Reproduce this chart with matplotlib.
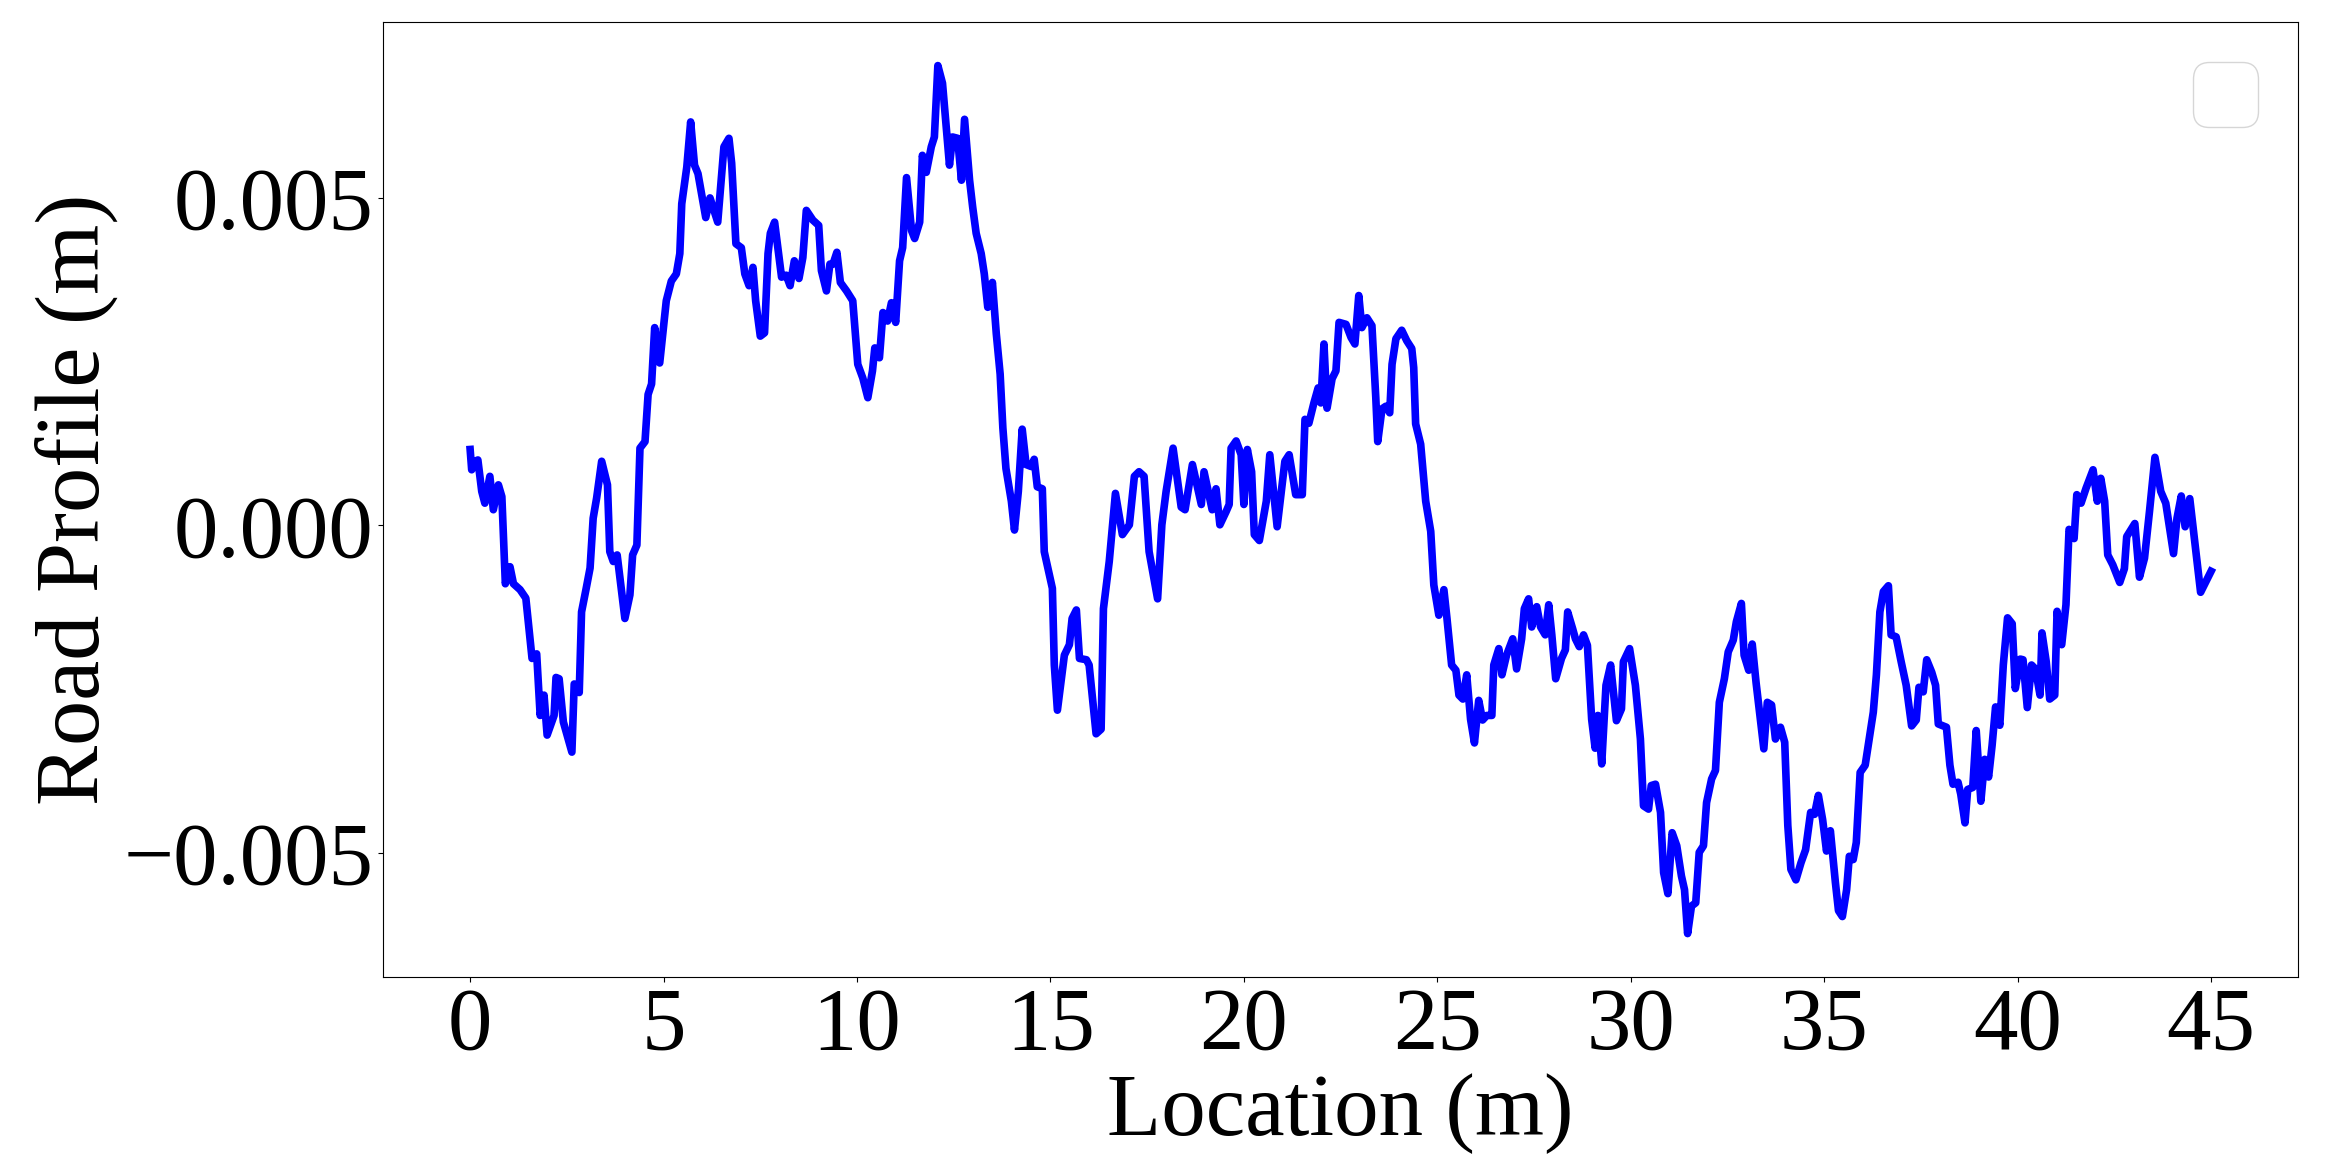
import matplotlib
matplotlib.use("Agg")
import matplotlib.pyplot as plt
import numpy as np

# Location (m)
location = [
    0.00, 0.04, 0.13, 0.20, 0.30, 0.38, 0.51, 0.60, 0.73, 0.82, 0.91, 1.03, 1.12, 1.29, 1.44,
    1.60, 1.72, 1.81, 1.91, 1.99, 2.17, 2.22, 2.30, 2.41, 2.63, 2.69, 2.82, 2.88, 3.00, 3.10,
    3.18, 3.27, 3.40, 3.55, 3.61, 3.70, 3.80, 4.00, 4.13, 4.20, 4.31, 4.39, 4.52, 4.60, 4.69,
    4.77, 4.90, 5.07, 5.20, 5.33, 5.42, 5.47, 5.60, 5.70, 5.80, 5.89, 6.09, 6.20, 6.40, 6.56,
    6.69, 6.76, 6.87, 7.01, 7.10, 7.21, 7.31, 7.38, 7.50, 7.61, 7.70, 7.76, 7.87, 8.05, 8.17,
    8.27, 8.38, 8.50, 8.60, 8.69, 8.86, 9.01, 9.08, 9.21, 9.30, 9.38, 9.48, 9.57, 9.73, 9.89,
    10.02, 10.15, 10.28, 10.40, 10.46, 10.58, 10.67, 10.79, 10.89, 11.00, 11.10, 11.18, 11.28,
    11.41, 11.49, 11.62, 11.69, 11.79, 11.92, 12.00, 12.09, 12.21, 12.39, 12.47, 12.60, 12.70,
    12.78, 12.91, 12.99, 13.08, 13.21, 13.29, 13.38, 13.50, 13.60, 13.70, 13.77, 13.85, 13.99,
    14.07, 14.17, 14.27, 14.37, 14.50, 14.58, 14.66, 14.79, 14.84, 15.05, 15.10, 15.18, 15.36,
    15.49, 15.56, 15.67, 15.75, 15.93, 16.00, 16.18, 16.31, 16.37, 16.52, 16.68, 16.86, 17.04,
    17.17, 17.29, 17.42, 17.55, 17.77, 17.88, 17.99, 18.17, 18.38, 18.48, 18.67, 18.90, 18.97,
    19.18, 19.28, 19.38, 19.54, 19.62, 19.67, 19.80, 19.93, 20.00, 20.09, 20.20, 20.27, 20.40,
    20.58, 20.67, 20.86, 21.06, 21.17, 21.34, 21.51, 21.58, 21.68, 21.81, 21.92, 21.99, 22.07,
    22.15, 22.28, 22.38, 22.46, 22.64, 22.77, 22.87, 22.97, 23.05, 23.18, 23.31, 23.41, 23.46,
    23.57, 23.67, 23.77, 23.83, 23.93, 24.08, 24.21, 24.34, 24.39, 24.44, 24.57, 24.70, 24.83,
    24.91, 25.04, 25.17, 25.25, 25.37, 25.48, 25.56, 25.66, 25.76, 25.86, 25.96, 26.07, 26.17,
    26.28, 26.41, 26.46, 26.59, 26.67, 26.79, 26.95, 27.05, 27.18, 27.25, 27.36, 27.44, 27.57,
    27.67, 27.79, 27.88, 27.96, 28.06, 28.21, 28.31, 28.37, 28.50, 28.57, 28.67, 28.78, 28.88,
    28.99, 29.08, 29.15, 29.25, 29.36, 29.48, 29.63, 29.76, 29.81, 29.97, 30.12, 30.25, 30.33,
    30.46, 30.53, 30.64, 30.77, 30.85, 30.96, 31.07, 31.19, 31.31, 31.39, 31.47, 31.57, 31.68,
    31.77, 31.88, 31.96, 32.09, 32.19, 32.29, 32.42, 32.52, 32.65, 32.73, 32.86, 32.93, 33.05,
    33.14, 33.24, 33.34, 33.44, 33.53, 33.64, 33.74, 33.87, 33.98, 34.06, 34.14, 34.27, 34.40,
    34.52, 34.65, 34.75, 34.85, 34.96, 35.06, 35.16, 35.29, 35.37, 35.47, 35.58, 35.65, 35.75,
    35.83, 35.93, 36.06, 36.19, 36.27, 36.35, 36.44, 36.53, 36.66, 36.73, 36.86, 36.99, 37.12,
    37.26, 37.38, 37.45, 37.56, 37.65, 37.78, 37.88, 37.95, 38.16, 38.25, 38.33, 38.46, 38.53,
    38.64, 38.71, 38.84, 38.93, 39.05, 39.15, 39.25, 39.34, 39.43, 39.54, 39.63, 39.74, 39.86,
    39.94, 40.07, 40.14, 40.25, 40.36, 40.46, 40.58, 40.63, 40.74, 40.83, 40.96, 41.02, 41.14,
    41.25, 41.33, 41.46, 41.53, 41.64, 41.77, 41.95, 42.06, 42.15, 42.25, 42.33, 42.46, 42.64,
    42.76, 42.82, 43.03, 43.15, 43.28, 43.41, 43.55, 43.70, 43.83, 44.03, 44.12, 44.23, 44.33,
    44.45, 44.58, 44.73, 45.00,
]

# Road profile (mm)
profile_mm = [
    1.16, 0.85, 0.98, 1.00, 0.52, 0.34, 0.75, 0.24, 0.62, 0.44, -0.89, -0.63, -0.89, -0.98, -1.11,
    -2.03, -1.96, -2.90, -2.59, -3.20, -2.90, -2.32, -2.34, -3.00, -3.46, -2.42, -2.55, -1.32, -0.96, -0.65,
    0.11, 0.42, 0.98, 0.62, -0.40, -0.55, -0.45, -1.42, -1.06, -0.45, -0.30, 1.18, 1.28, 2.00, 2.16,
    3.02, 2.48, 3.43, 3.73, 3.84, 4.15, 4.91, 5.47, 6.16, 5.50, 5.37, 4.70, 5.00, 4.63, 5.78,
    5.91, 5.53, 4.30, 4.24, 3.84, 3.66, 3.94, 3.43, 2.89, 2.94, 4.15, 4.46, 4.63, 3.79, 3.82,
    3.66, 4.04, 3.77, 4.09, 4.81, 4.66, 4.58, 3.89, 3.58, 3.99, 3.99, 4.17, 3.71, 3.58, 3.43,
    2.46, 2.25, 1.95, 2.36, 2.71, 2.56, 3.25, 3.12, 3.40, 3.10, 4.04, 4.24, 5.31,
    4.50, 4.38, 4.63, 5.65, 5.39, 5.78, 5.93, 7.02, 6.75, 5.50, 5.93, 5.91, 5.27,
    6.20, 5.27, 4.86, 4.46, 4.15, 3.84, 3.33, 3.71, 2.93, 2.31, 1.49, 0.87, 0.37,
    -0.07, 0.52, 1.47, 0.93, 0.90, 1.01, 0.59, 0.56, -0.40, -0.96, -2.13, -2.82, -1.98,
    -1.82, -1.42, -1.29, -2.03, -2.05, -2.13, -3.18, -3.11, -1.27, -0.55, 0.49, -0.14, 0.01,
    0.75, 0.82, 0.75, -0.40, -1.12, 0.01, 0.52, 1.18, 0.28, 0.24, 0.93, 0.32, 0.82,
    0.24, 0.56, 0.01, 0.21, 0.32, 1.18, 1.29, 1.08, 0.32, 1.16, 0.82, -0.14, -0.23,
    0.37, 1.08, -0.02, 0.98, 1.08, 0.47, 0.47, 1.62, 1.56, 1.87, 2.10, 1.87, 2.77,
    1.79, 2.24, 2.36, 3.10, 3.07, 2.87, 2.77, 3.51, 3.02, 3.17, 3.05, 1.95, 1.28,
    1.78, 1.82, 1.72, 2.46, 2.85, 2.98, 2.82, 2.70, 2.41, 1.55, 1.24, 0.37, -0.09,
    -0.91, -1.37, -0.98, -1.42, -2.13, -2.21, -2.59, -2.65, -2.28, -2.96, -3.32, -2.67, -2.97,
    -2.90, -2.90, -2.13, -1.88, -2.28, -1.98, -1.73, -2.19, -1.73, -1.27, -1.12, -1.55, -1.24,
    -1.55, -1.67, -1.21, -1.67, -2.34, -2.03, -1.90, -1.32, -1.58, -1.73, -1.85, -1.67, -1.83,
    -2.96, -3.40, -2.90, -3.64, -2.44, -2.13, -2.98, -2.80, -2.08, -1.88, -2.44, -3.26, -4.28,
    -4.33, -3.97, -3.95, -4.38, -5.30, -5.62, -4.69, -4.89, -5.35, -5.56, -6.23, -5.81, -5.76,
    -4.99, -4.89, -4.23, -3.87, -3.74, -2.70, -2.34, -1.93, -1.75, -1.47, -1.19, -1.98, -2.21,
    -1.81, -2.40, -2.90, -3.41, -2.70, -2.74, -3.26, -3.08, -3.31, -4.58, -5.25, -5.41, -5.15,
    -4.95, -4.38, -4.41, -4.12, -4.49, -4.97, -4.66, -5.45, -5.88, -5.97, -5.56, -5.05, -5.10,
    -4.84, -3.77, -3.66, -3.16, -2.85, -2.28, -1.32, -1.01, -0.92, -1.67, -1.70, -2.08, -2.44,
    -3.06, -2.97, -2.47, -2.54, -2.05, -2.24, -2.44, -3.03, -3.08, -3.66, -3.95, -3.92, -4.10,
    -4.54, -4.03, -4.00, -3.13, -4.21, -3.57, -3.84, -3.36, -2.77, -3.05, -2.13, -1.41, -1.50,
    -2.49, -2.04, -2.05, -2.78, -2.13, -2.19, -2.59, -1.64, -2.08, -2.65, -2.59, -1.31, -1.82,
    -1.21, -0.06, -0.20, 0.47, 0.34, 0.57, 0.85, 0.37, 0.72, 0.37, -0.45, -0.60, -0.87,
    -0.66, -0.17, 0.03, -0.79, -0.50, 0.22, 1.04, 0.52, 0.34, -0.43, 0.11, 0.45, -0.02,
    0.41, -0.25, -1.02, -0.70,
]

profile = np.array(profile_mm) * 1e-3

plt.rcParams['font.family'] = ['Liberation Serif', 'DejaVu Serif']
plt.rcParams['font.size'] = 60
plt.rcParams['mathtext.fontset'] = 'stix'

fig = plt.figure(figsize=(23.26, 11.73), dpi=100)
ax = fig.add_axes([0.1647, 0.1671, 0.8233, 0.814])
ax.plot(location, profile, color='blue', linewidth=5.5)

ax.set_xticks([0, 5, 10, 15, 20, 25, 30, 35, 40, 45])
ax.set_yticks([-0.005, 0.0, 0.005])
ax.set_xlabel('Location (m)', fontsize=64)
ax.set_ylabel('Road Profile (m)', fontsize=65)
ax.tick_params(labelsize=64)
ax.legend(loc='upper right', fontsize=58)

fig.savefig('out.png', dpi=100)
